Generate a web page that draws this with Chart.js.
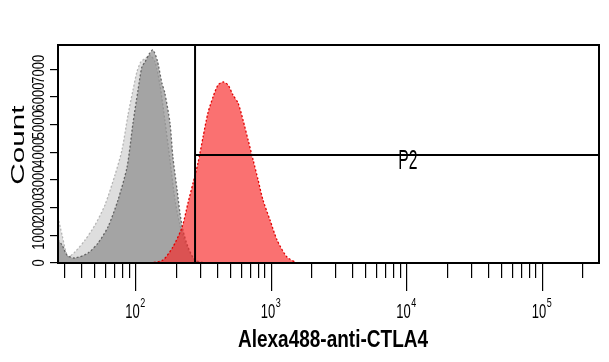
<!DOCTYPE html>
<html><head><meta charset="utf-8">
<script src="https://cdn.jsdelivr.net/npm/chart.js@4.4.1/dist/chart.umd.min.js"></script>
<style>html,body{margin:0;padding:0;background:#fff;overflow:hidden}canvas{display:block}</style>
</head><body>
<canvas id="c" width="609" height="362"></canvas>
<script>
// ---- data (fluorescence intensity, count) ----
const lightX = [26.7,28.6,31.6,35.6,42.3,50.1,59.3,70.3,79.2,87.7,95.5,102,109,119,127,139,151,164,179,195,212,235,265,298];
const lightY = [1663,1012,228,398,831,1374,2097,3181,4085,5350,6254,6905,7266,7411,7519,7266,6435,5169,3723,2277,1374,651,181,0];
const darkX  = [26.7,28.6,31.1,35.6,44.5,52.7,62.4,74.0,86.3,95.5,104,111,117,127,134,144,156,164,179,188,202,212,223,243,274,324];
const darkY  = [831,651,289,181,361,723,1301,2277,3470,5061,6254,7085,7266,7592,7700,7338,6507,6146,5061,3832,2639,1808,1193,578,108,0];
const redX   = [127,159,188,220,243,265,288,314,341,372,405,441,480,522,569,619,675,735,800,869,979,1104,1306,1549];
const redY   = [0,108,578,1301,2169,2892,3615,4555,5423,6001,6435,6543,6435,6073,5784,5169,4446,3723,3000,2277,1554,831,217,0];
// gate P2
const gateLeft = 274, gateRight = 262144, gateLevel = 3900, gateName = 'P2';
const gateLabelX = 10200;
// axes
const xMin = 26.7, xMax = 262144, yMin = 0, yMax = 7880;
const xMinorTicks = [30,40,50,60,70,80,90,200,300,400,500,600,700,800,900,2000,3000,4000,5000,6000,7000,8000,9000,20000,30000,40000,50000,60000,70000,80000,90000,200000];
const xMajorTicks = [100,1000,10000,100000];
const xLabelBase = '10';
const xLabelExps = ['2','3','4','5'];
const yTicks = [0,1000,2000,3000,4000,5000,6000,7000];
const yTickLabels = ['0','1000','2000','3000','4000','5000','6000','7000'];
const xTitle = 'Alexa488-anti-CTLA4';
const yTitle = 'Count';

const pts = (xs, ys) => xs.map((x, i) => ({x: x, y: ys[i]}));
const FONT = "'Liberation Sans', Arial, sans-serif";

const textPlugin = {
  id: 'texts',
  afterDraw(chart) {
    const ctx = chart.ctx, a = chart.chartArea;
    const xs = chart.scales.x2, ys = chart.scales.y;
    ctx.save();
    // frame
    ctx.strokeStyle = '#000'; ctx.lineWidth = 2;
    ctx.strokeRect(a.left, a.top, a.right - a.left, a.bottom - a.top);
    ctx.fillStyle = '#000';
    // x tick labels 10^n
    xMajorTicks.forEach((v, i) => {
      const px = xs.getPixelForValue(v);
      ctx.save();
      ctx.translate(px - 10.5, 318);
      ctx.scale(1, 1.5);
      ctx.font = '13px ' + FONT;
      ctx.textAlign = 'left'; ctx.textBaseline = 'alphabetic';
      ctx.fillText(xLabelBase, 0, 0);
      const w = ctx.measureText(xLabelBase).width;
      ctx.font = '9px ' + FONT;
      ctx.fillText(xLabelExps[i], w + 0.5, -7.3);
      ctx.restore();
    });
    // y tick labels rotated
    yTicks.forEach((v, i) => {
      const py = ys.getPixelForValue(v);
      ctx.save();
      ctx.translate(43.5, py);
      ctx.rotate(-Math.PI / 2);
      ctx.scale(1, 1.2);
      ctx.font = '13px ' + FONT;
      ctx.textAlign = 'center'; ctx.textBaseline = 'alphabetic';
      ctx.fillText(yTickLabels[i], 0, 0);
      ctx.restore();
    });
    // y title
    ctx.save();
    ctx.translate(23.5, 145);
    ctx.rotate(-Math.PI / 2);
    ctx.scale(1.65, 1);
    ctx.font = '18px ' + FONT;
    ctx.textAlign = 'center'; ctx.textBaseline = 'alphabetic';
    ctx.fillText(yTitle, 0, 0);
    ctx.restore();
    // x title
    ctx.save();
    ctx.translate(333, 347);
    ctx.scale(1, 1.22);
    ctx.font = 'bold 19px ' + FONT;
    ctx.textAlign = 'center'; ctx.textBaseline = 'alphabetic';
    ctx.fillText(xTitle, 0, 0);
    ctx.restore();
    // gate label
    ctx.save();
    ctx.translate(xs.getPixelForValue(gateLabelX), 169);
    ctx.scale(1.05, 1.85);
    ctx.font = '15px ' + FONT;
    ctx.textAlign = 'center'; ctx.textBaseline = 'alphabetic';
    ctx.fillText(gateName, 0, 0);
    ctx.restore();
    ctx.restore();
  }
};

const histStyle = (fill, line, order) => ({
  type: 'line', fill: 'origin', backgroundColor: fill, borderColor: line,
  borderWidth: 1.3, borderDash: [2, 2], pointRadius: 0, tension: 0.25, order: order
});

new Chart(document.getElementById('c'), {
  type: 'line',
  data: {
    datasets: [
      Object.assign({data: pts([gateLeft, gateLeft], [yMin, yMax])},
        {borderColor: '#000', borderWidth: 2, pointRadius: 0, fill: false, order: 0}),
      Object.assign({data: pts([gateLeft, gateRight], [gateLevel, gateLevel])},
        {borderColor: '#000', borderWidth: 2, pointRadius: 0, fill: false, order: 0}),
      Object.assign({data: pts(redX, redY)}, histStyle('rgba(248,40,40,0.66)', 'rgb(225,0,0)', 1)),
      Object.assign({data: pts(darkX, darkY)}, histStyle('rgba(125,125,125,0.6)', 'rgba(90,90,90,0.9)', 2)),
      Object.assign({data: pts(lightX, lightY)}, histStyle('rgba(205,205,205,0.65)', 'rgba(175,175,175,0.9)', 3))
    ]
  },
  options: {
    responsive: false, devicePixelRatio: 1, animation: false,
    layout: {padding: {left: 0, right: 10, top: 45, bottom: 0}},
    plugins: {legend: {display: false}, tooltip: {enabled: false}},
    scales: {
      x: {
        type: 'logarithmic', position: 'bottom', min: xMin, max: xMax, weight: 0,
        border: {display: false},
        grid: {drawOnChartArea: false, drawTicks: true, tickLength: 15, color: '#000', lineWidth: 1.2},
        ticks: {display: false},
        afterBuildTicks: s => { s.ticks = xMinorTicks.map(v => ({value: v})); },
        afterFit: s => { s.height = 0; }
      },
      x2: {
        type: 'logarithmic', position: 'bottom', min: xMin, max: xMax, weight: 1,
        border: {display: false},
        grid: {drawOnChartArea: false, drawTicks: true, tickLength: 28, color: '#000', lineWidth: 1.2},
        ticks: {display: false},
        afterBuildTicks: s => { s.ticks = xMajorTicks.map(v => ({value: v})); },
        afterFit: s => { s.height = 99; }
      },
      y: {
        type: 'linear', position: 'left', min: yMin, max: yMax,
        border: {display: false},
        grid: {drawOnChartArea: false, drawTicks: true, tickLength: 8, color: '#000', lineWidth: 1.2},
        ticks: {display: false},
        afterBuildTicks: s => { s.ticks = yTicks.map(v => ({value: v})); },
        afterFit: s => { s.width = 58; }
      }
    }
  },
  plugins: [textPlugin]
});
</script></body></html>
